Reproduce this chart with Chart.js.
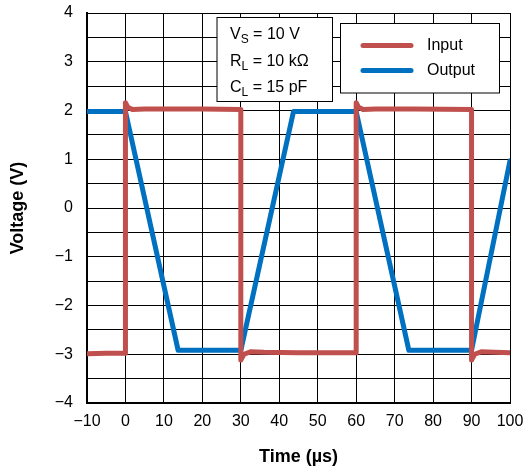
<!doctype html>
<html lang="en">
<head>
<meta charset="UTF-8">
<title>Input / Output</title>
<script src="https://cdn.jsdelivr.net/npm/chart.js"></script>
<style>
    body { margin: 0; background: #fff; }
    #wrap { width: 527px; height: 472px; position: relative; }
</style>
</head>
<body>
<div id="wrap"><canvas id="myChart"></canvas></div>
<script>
    // input step signal (time in µs, voltage in V)
    const inputTime = [-10, -5, 0, 0, 0.6, 1.8, 5, 10, 20, 30, 30, 30.8, 32.5, 36, 45, 60, 60, 60.6, 61.8, 65, 75, 90, 90, 90.8, 92.5, 96, 100];
    const inputVolt = [-2.99, -2.98, -2.98, 2.16, 2.07, 2.02, 2.03, 2.03, 2.03, 2.02, -3.12, -3.0, -2.95, -2.96, -2.97, -2.97, 2.16, 2.07, 2.02, 2.03, 2.03, 2.02, -3.12, -3.0, -2.95, -2.96, -2.97];

    // output (slew limited)
    const outputTime = [-10, 0, 13.7, 30, 43.7, 60, 73.7, 90, 100];
    const outputVolt = [1.98, 1.98, -2.92, -2.92, 1.98, 1.98, -2.92, -2.92, 0.97];

    const seriesNames = ['Input', 'Output'];
    const seriesColors = ['#c0504d', '#0070c0'];

    const notes = [['V', 'S', ' = 10 V'], ['R', 'L', ' = 10 k\u03A9'], ['C', 'L', ' = 15 pF']];

    const FONT = '"Liberation Sans", Arial, Helvetica, sans-serif';

    function toPoints(xs, ys) {
        return xs.map((x, i) => ({ x: x, y: ys[i] }));
    }

    function minus(v) {
        return v < 0 ? '\u2212' + Math.abs(v) : String(v);
    }

    // no extra room for overflowing tick labels, layout padding decides
    function noPad(s) {
        s.paddingTop = 0;
        s.paddingBottom = 0;
        s.paddingLeft = 0;
        s.paddingRight = 0;
    }

    // boxes drawn on top of the grid: conditions + legend
    const boxPlugin = {
        id: 'boxes',
        afterDraw(chart) {
            const ctx = chart.ctx;
            ctx.save();

            // conditions box
            ctx.fillStyle = '#fff';
            ctx.fillRect(217, 17.5, 115.5, 84);
            ctx.strokeStyle = '#000';
            ctx.lineWidth = 1;
            ctx.strokeRect(217, 17.5, 115.5, 84);
            ctx.fillStyle = '#000';
            ctx.textBaseline = 'alphabetic';
            notes.forEach((n, i) => {
                const y = 39 + i * 26.5;
                let x = 230;
                ctx.font = '16px ' + FONT;
                ctx.fillText(n[0], x, y);
                x += ctx.measureText(n[0]).width;
                ctx.font = '12px ' + FONT;
                ctx.fillText(n[1], x, y + 4);
                x += ctx.measureText(n[1]).width;
                ctx.font = '16px ' + FONT;
                ctx.fillText(n[2], x, y);
            });

            // legend box
            ctx.fillStyle = '#fff';
            ctx.fillRect(340.5, 23.5, 159, 69.5);
            ctx.strokeRect(340.5, 23.5, 159, 69.5);
            chart.data.datasets.forEach((ds, i) => {
                const y = 45.5 + i * 25;
                ctx.strokeStyle = ds.borderColor;
                ctx.lineWidth = 5;
                ctx.lineCap = 'round';
                ctx.beginPath();
                ctx.moveTo(363, y);
                ctx.lineTo(411, y);
                ctx.stroke();
                ctx.fillStyle = '#000';
                ctx.font = '16px ' + FONT;
                ctx.textBaseline = 'middle';
                ctx.fillText(ds.label, 427, y);
            });
            ctx.restore();
        }
    };

    Chart.defaults.font.family = FONT;
    Chart.defaults.color = '#000';

    const ctx = document.getElementById('myChart').getContext('2d');
    new Chart(ctx, {
        type: 'line',
        data: {
            datasets: [
                {
                    label: seriesNames[0],
                    data: toPoints(inputTime, inputVolt),
                    borderColor: seriesColors[0],
                    borderWidth: 5,
                    pointRadius: 0,
                    tension: 0,
                    borderJoinStyle: 'round',
                    borderCapStyle: 'round',
                    fill: false
                },
                {
                    label: seriesNames[1],
                    data: toPoints(outputTime, outputVolt),
                    borderColor: seriesColors[1],
                    borderWidth: 5,
                    pointRadius: 0,
                    tension: 0,
                    borderJoinStyle: 'round',
                    borderCapStyle: 'round',
                    fill: false
                }
            ]
        },
        options: {
            responsive: true,
            maintainAspectRatio: false,
            animation: false,
            layout: { padding: { left: 0, right: 17, top: 13, bottom: 0 } },
            plugins: {
                legend: { display: false },
                tooltip: { enabled: false }
            },
            scales: {
                x: {
                    type: 'linear',
                    min: -10,
                    max: 100,
                    border: { color: '#000', width: 2 },
                    grid: { color: '#000', lineWidth: 1, drawTicks: false },
                    ticks: {
                        stepSize: 10,
                        autoSkip: false,
                        maxRotation: 0,
                        padding: 9,
                        font: { size: 16 },
                        callback: v => minus(v)
                    },
                    title: {
                        display: true,
                        text: 'Time (\u00B5s)',
                        font: { size: 18, weight: 'bold' },
                        padding: { top: 0, bottom: 4 }
                    },
                    afterFit: s => { s.height = 69; noPad(s); }
                },
                y: {
                    min: -4,
                    max: 4,
                    border: { color: '#000', width: 2 },
                    grid: { color: '#000', lineWidth: 1, drawTicks: false },
                    ticks: {
                        stepSize: 0.5,
                        autoSkip: false,
                        padding: 14,
                        font: { size: 16 },
                        callback: v => Number.isInteger(v) ? minus(v) : ''
                    },
                    title: {
                        display: true,
                        text: 'Voltage (V)',
                        font: { size: 18, weight: 'bold' },
                        padding: { top: 7, bottom: 0 }
                    },
                    afterFit: s => { s.width = 87; noPad(s); }
                }
            }
        },
        plugins: [boxPlugin]
    });
</script>
</body>
</html>
